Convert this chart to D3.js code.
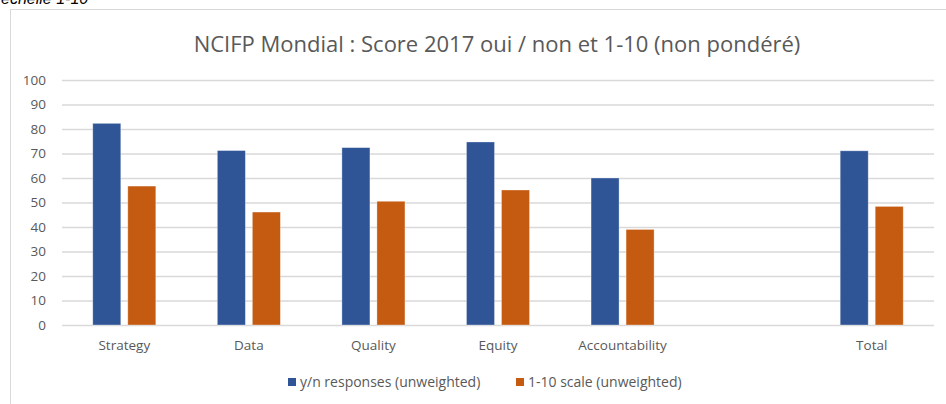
<!DOCTYPE html>
<html>
<head>
<meta charset="utf-8">
<script src="https://cdn.jsdelivr.net/npm/d3@7"></script>
<style>
  body { margin: 0; background: #fff; }
  svg { display: block; font-family: "Open Sans", "Liberation Sans", sans-serif; }
</style>
</head>
<body>
<svg id="chart"></svg>
<script>
const categories = ['Strategy', 'Data', 'Quality', 'Equity', 'Accountability', '', 'Total'];
const seriesNames = ['y/n responses (unweighted)', '1-10 scale (unweighted)'];
const ynValues = [82.3, 71.2, 72.4, 74.7, 60.0, null, 71.1];
const scaleValues = [56.7, 46.1, 50.5, 55.1, 39.0, null, 48.4];
const yTicks = [0, 10, 20, 30, 40, 50, 60, 70, 80, 90, 100];
const colors = ['#2F5597', '#C55A11'];

const width = 946, height = 404;
const margin = { left: 62, right: 12, top: 80, bottom: 79 };
const font = '"Open Sans", "Liberation Sans", sans-serif';

const svg = d3.select('#chart')
  .attr('width', width)
  .attr('height', height);

// caption cut off above the chart frame
svg.append('text')
  .attr('x', 1)
  .attr('y', 4)
  .style('font-family', '"Liberation Sans", sans-serif')
  .style('font-style', 'italic')
  .style('font-size', '16px')
  .attr('fill', '#000')
  .text('échelle 1-10');

// chart frame
svg.append('rect')
  .attr('x', 10.5)
  .attr('y', 9.5)
  .attr('width', 960)
  .attr('height', 420)
  .attr('fill', '#fff')
  .attr('stroke', '#d9d9d9');

const x0 = d3.scaleBand()
  .domain(categories)
  .range([margin.left, width - margin.right])
  .paddingInner(0.494)
  .paddingOuter(0.247);

const x1 = d3.scaleBand()
  .domain([0, 1])
  .range([0, x0.bandwidth()])
  .paddingInner(0.2);

const y = d3.scaleLinear()
  .domain([0, 100])
  .range([height - margin.bottom, margin.top]);

// gridlines + y labels
const yAxis = d3.axisLeft(y)
  .tickValues(yTicks)
  .tickSize(-(width - margin.left - margin.right))
  .tickPadding(16);

const gy = svg.append('g')
  .attr('transform', `translate(${margin.left},0)`)
  .call(yAxis)
  .attr('font-family', font);
gy.select('.domain').remove();
gy.selectAll('.tick line').attr('stroke', '#d9d9d9').attr('stroke-width', 1.3);
gy.selectAll('.tick text')
  .attr('fill', '#595959')
  .style('font-size', '13.5px');

// bars
const rows = categories.map((c, i) => ({ cat: c, vals: [ynValues[i], scaleValues[i]] }));

const groups = svg.append('g')
  .selectAll('g')
  .data(rows)
  .join('g')
  .attr('transform', d => `translate(${x0(d.cat)},0)`);

groups.selectAll('rect')
  .data(d => d.vals.map((v, s) => ({ s, v })).filter(d => d.v != null))
  .join('rect')
  .attr('x', d => x1(d.s))
  .attr('width', x1.bandwidth())
  .attr('y', d => y(d.v))
  .attr('height', d => y(0) - y(d.v))
  .attr('fill', d => colors[d.s])
  .attr('stroke', '#fff')
  .attr('stroke-opacity', 0.4)
  .attr('stroke-width', 0.8);

// category labels
const xAxis = d3.axisBottom(x0).tickSize(0).tickPadding(15);
const gx = svg.append('g')
  .attr('transform', `translate(0,${y(0)})`)
  .call(xAxis)
  .attr('font-family', font);
gx.select('.domain').remove();
gx.selectAll('.tick text')
  .attr('fill', '#595959')
  .style('font-size', '13.5px');

// title
svg.append('text')
  .attr('x', 497)
  .attr('y', 52)
  .attr('text-anchor', 'middle')
  .attr('fill', '#595959')
  .style('font-size', '22px')
  .text('NCIFP Mondial : Score 2017 oui / non et 1-10 (non pondéré)');

// legend
const legendX = [288, 516];
const legend = svg.append('g')
  .selectAll('g')
  .data(seriesNames)
  .join('g')
  .attr('transform', (d, i) => `translate(${legendX[i]},378)`);

legend.append('rect')
  .attr('width', 8)
  .attr('height', 8)
  .attr('fill', (d, i) => colors[i]);

legend.append('text')
  .attr('x', 12)
  .attr('y', 4)
  .attr('dy', '0.35em')
  .attr('fill', '#595959')
  .style('font-size', '14px')
  .text(d => d);
</script>
</body>
</html>
